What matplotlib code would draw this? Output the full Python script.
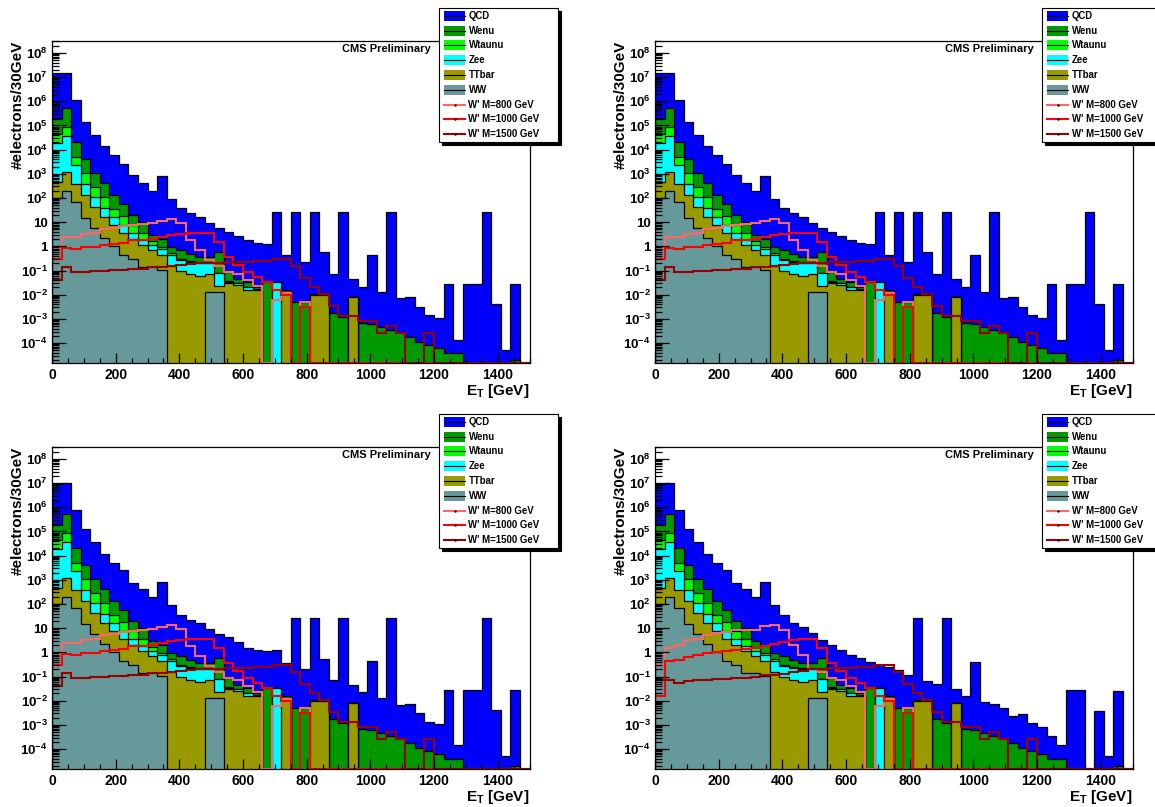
import numpy as np
import matplotlib
matplotlib.use("Agg")
import matplotlib.pyplot as plt
from matplotlib.patches import Rectangle
from matplotlib.ticker import FixedLocator, LogLocator, MultipleLocator, FuncFormatter, NullFormatter

plt.rcParams['font.family'] = 'Liberation Sans'
plt.rcParams['font.weight'] = 'bold'
plt.rcParams['mathtext.fontset'] = 'custom'
plt.rcParams['mathtext.rm'] = 'Liberation Sans:bold'
plt.rcParams['mathtext.bf'] = 'Liberation Sans:bold'
plt.rcParams['mathtext.it'] = 'Liberation Sans:bold'

# 30 GeV bins from 0 to 1500 GeV
edges = np.arange(0, 1501, 30)

# QCD = stack total, one array per panel row/column
qcd_top = [1.5e7, 1.5e7, 1.1e6, 1.4e5, 3.9e4, 1.45e4, 6.2e3, 2.65e3, 860, 400,
           190, 820, 88, 37, 23, 16.5, 9.2, 6.0, 3.8, 2.7,
           1.8, 1.4, 1.26, 26, 0.44, 26, 0.23, 26, 0.6, 0.069,
           26, 0.043, 0.021, 0.44, 0.013, 26, 0.0071, 0.0078, 0.0031, 0.00143,
           0.00111, 0.027, 1.4e-4, 0.027, 0.028, 26, 0.004, 5.1e-5, 0.027, 0]
qcd_bl = [9.5e6, 1.05e7, 7.6e5, 1.3e5, 3.5e4, 1.15e4, 4.8e3, 2.5e3, 760, 400,
          186, 830, 89, 35, 21, 17, 9, 6, 4.2, 2.8,
          1.5, 1.3, 1.1, 1.2, 0.35, 26, 0.2, 26, 0.52, 0.072,
          26, 0.045, 0.024, 0.45, 0.0126, 26, 0.0066, 0.007, 0.003, 0.00136,
          0.00105, 0.027, 1.5e-4, 0.027, 0.029, 26, 0.0041, 5.4e-5, 0.027, 0]
qcd_br = [9.5e6, 1.05e7, 7.6e5, 1.3e5, 3.5e4, 1.15e4, 4.8e3, 2.5e3, 760, 400,
          186, 830, 89, 35, 16, 11.6, 6.1, 3.2, 2.0, 1.2,
          0.77, 0.56, 0.41, 0.3, 0.25, 0.19, 0.115, 26, 0.067, 0.048,
          26, 0.03, 0.015, 0.41, 0.009, 0.0071, 0.0048, 0.0024, 0.0028, 0.0012,
          8.5e-4, 3.6e-4, 1.5e-4, 0.027, 0.028, 0, 0.0037, 5.4e-5, 0.026, 0]

# stacked levels below QCD (shared by all panels)
wenu_lvl = [1.8e5, 5.1e5, 2.1e4, 4.0e3, 1.05e3, 430, 133, 55, 20, 10.5,
            3.0, 2.1, 0.97, 0.71, 0.5, 0.37, 0.35, 0.6, 0.09, 0.045,
            0.035, 0.021, 0.035, 0.035, 0.015, 0.005, 0.005, 0.011, 0.011, 0.0018,
            0.0012, 0.0083, 6.5e-4, 6.0e-4, 4.8e-4, 3.5e-4, 3.0e-4, 1.8e-4, 1.15e-4, 8.3e-5,
            6.0e-5, 4.0e-5, 4.0e-5, 0, 0, 0, 0, 0, 2.0e-5, 0]
wtau_lvl = [4.5e4, 8.5e4, 5.1e3, 1.05e3, 275, 107, 34, 18, 7.6, 3.7,
            1.6, 0.95, 0.52, 0.3, 0.25, 0.22, 0.22, 0.08, 0.037, 0.031,
            0.021, 0.0165, 0, 0.035, 0.013, 0, 0, 0.01, 0.01, 0,
            0, 0.0083] + [0] * 18
zee_lvl = [1.8e4, 3.5e4, 2.4e3, 380, 107, 37, 17, 7.6, 3.7, 1.8,
           1.14, 0.76, 0.44, 0.27, 0.23, 0.2, 0.2, 0.076, 0.035, 0.03,
           0.02, 0.0155, 0, 0.035, 0.013, 0, 0, 0.01, 0.01, 0,
           0, 0.0083] + [0] * 18
tt_lvl = [480, 1240, 380, 133, 44, 17, 7.6, 3.7, 2.1, 1.14,
          0.71, 0.44, 0.15, 0.1, 0.07, 0.06, 0.07, 0.023, 0.03, 0.025,
          0.015, 0.0155, 0, 0, 0.013, 0, 0, 0.01, 0.01, 0,
          0, 0.0083] + [0] * 18
ww_lvl = [97, 200, 71, 14.5, 5.5, 2.3, 1.0, 0.44, 0.29, 0.145,
          0.145, 0.11, 0, 0, 0, 0, 0.013, 0.013] + [0] * 32

# W' signal histograms
wp800 = [0.83, 2.5, 2.5, 3.3, 3.7, 5.0, 5.7, 6.9, 7.6, 8.5,
         9.5, 11.0, 13.0, 9.3, 1.9, 0.7, 0.27, 0.155, 0.09, 0.072,
         0.04, 0.023, 0, 0.006, 0.012, 0, 0.005] + [0] * 23
wp1000 = [0.30, 0.83, 0.77, 0.9, 0.96, 1.1, 1.3, 1.4, 1.8, 1.9,
          2.1, 2.5, 2.9, 3.1, 3.5, 3.7, 3.7, 1.55, 0.35, 0.17,
          0.09, 0.056, 0.035, 0.016, 0.01, 0, 0.003] + [0] * 23
wp1500 = [0.04, 0.135, 0.09, 0.09, 0.1, 0.1, 0.105, 0.11, 0.12, 0.12,
          0.14, 0.14, 0.15, 0.17, 0.19, 0.2, 0.2, 0.21, 0.22, 0.22,
          0.23, 0.24, 0.25, 0.3, 0.31, 0.15, 0.05, 0.02, 0.011, 0.0033,
          0.0013, 0.0013, 8e-4, 8e-4, 2.6e-4, 5e-4, 2.6e-4, 0, 0, 2.7e-4] + [0] * 10
wp800_br = [0.3, 1.45, 2.0, 3.2, 3.7, 5.0, 6.1, 6.7, 8.3, 8.7,
            8.7, 12.6, 13.3, 8.7, 2.0, 0.77, 0.2, 0.15, 0.09, 0.072,
            0.04, 0.023, 0, 0.006, 0.012, 0, 0.005] + [0] * 23
wp1000_br = [0.015, 0.44, 0.5, 0.66, 0.8, 0.95, 1.0, 1.1, 1.2, 1.35,
             1.5, 1.9, 2.2, 2.6, 3.1, 3.5, 3.5, 1.55, 0.35, 0.17,
             0.09, 0.056, 0.035, 0.016, 0.01, 0, 0.003] + [0] * 23
wp1500_br = [0.075, 0.07, 0.055, 0.067, 0.075, 0.075, 0.08, 0.08, 0.09, 0.09,
             0.1, 0.116, 0.12, 0.13, 0.15, 0.17, 0.2, 0.21, 0.22, 0.22,
             0.23, 0.24, 0.25, 0.3, 0.31, 0.15, 0.05, 0.02, 0.011, 0.0033,
             0.0013, 0.0013, 8e-4, 8e-4, 2.6e-4, 5e-4, 2.6e-4, 0, 0, 2.7e-4] + [0] * 10

bkg_names = ['QCD', 'Wenu', 'Wtaunu', 'Zee', 'TTbar', 'WW']
bkg_colors = ['#0000ff', '#009900', '#00ff00', '#00ffff', '#999900', '#669999']
sig_names = ["W' M=800 GeV", "W' M=1000 GeV", "W' M=1500 GeV"]
sig_colors = ['#ff6666', '#ff0000', '#990000']

W, H = 1155, 807
YMIN, YMAX = 1.5e-5, 3.2e8

fig = plt.figure(figsize=(W / 100, H / 100), dpi=100)

# (left px, top px, qcd total, signals)
panels = [
    (52, 40.7, qcd_top, (wp800, wp1000, wp1500)),
    (655, 40.7, qcd_top, (wp800, wp1000, wp1500)),
    (52, 446.7, qcd_bl, (wp800, wp1000, wp1500)),
    (655, 446.7, qcd_br, (wp800_br, wp1000_br, wp1500_br)),
]
ax_w, ax_h = 477.5, 322.3


def ytick_fmt(v, pos):
    n = int(round(np.log10(v)))
    if n == 0:
        return '1'
    if n == 1:
        return '10'
    return r'$\mathbf{10^{%d}}$' % n


for left, top, qcd, sigs in panels:
    ax = fig.add_axes([left / W, 1 - (top + ax_h) / H, ax_w / W, ax_h / H])
    levels = [qcd, wenu_lvl, wtau_lvl, zee_lvl, tt_lvl, ww_lvl]
    for lvl, col in zip(levels, bkg_colors):
        v = np.array(lvl, dtype=float)
        v[v <= 0] = 1e-10
        ax.stairs(v, edges, baseline=1e-10, fill=True, facecolor=col,
                  edgecolor='black', linewidth=0.9)
    for s, col in zip(sigs, sig_colors):
        v = np.array(s, dtype=float)
        v[v <= 0] = 1.55e-5
        ax.stairs(v, edges, baseline=None, color=col, linewidth=1.5)

    ax.set_yscale('log')
    ax.set_xlim(0, 1500)
    ax.set_ylim(YMIN, YMAX)
    ax.set_axisbelow(False)
    ax.xaxis.set_major_locator(FixedLocator(np.arange(0, 1401, 200)))
    ax.xaxis.set_minor_locator(MultipleLocator(50))
    ax.yaxis.set_major_locator(LogLocator(base=10, numticks=20))
    ax.yaxis.set_minor_locator(LogLocator(base=10, subs=np.arange(2, 10), numticks=20))
    ax.yaxis.set_major_formatter(FuncFormatter(ytick_fmt))
    ax.yaxis.set_minor_formatter(NullFormatter())
    ax.tick_params(axis='x', which='major', direction='in', length=7, width=0.9,
                   labelsize=10, pad=3.5, top=False)
    ax.tick_params(axis='x', which='minor', direction='in', length=3.6, width=0.9, top=False)
    ax.tick_params(axis='y', which='major', direction='in', length=10, width=0.9,
                   labelsize=9.5, pad=3, right=False)
    ax.tick_params(axis='y', which='minor', direction='in', length=5, width=0.9, right=False)
    for sp in ax.spines.values():
        sp.set_linewidth(0.9)

    ax.text(-0.071, 1.0, '#electrons/30GeV', rotation=90, ha='center', va='top',
            fontsize=11, fontweight='bold', transform=ax.transAxes)
    ax.text(1.0, -0.058, r'$\mathbf{E_{T}}$ [GeV]', ha='right', va='top',
            fontsize=11, fontweight='bold', transform=ax.transAxes)
    ax.text(0.793, 0.973, 'CMS Preliminary', ha='right', va='center',
            fontsize=8, fontweight='bold', transform=ax.transAxes)

# legends drawn in pixel coordinates on an overlay
ov = fig.add_axes([0, 0, 1, 1], zorder=10)
ov.set_xlim(0, W)
ov.set_ylim(H, 0)
ov.axis('off')

entries = [(n, c, 'f') for n, c in zip(bkg_names, bkg_colors)] + \
          [(n, c, 'l') for n, c in zip(sig_names, sig_colors)]


def draw_legend(x0, y0):
    w, h = 119, 133.4
    ov.add_patch(Rectangle((x0 + 3, y0 + 3), w, h, facecolor='black', edgecolor='black', lw=0.8))
    ov.add_patch(Rectangle((x0, y0), w, h, facecolor='white', edgecolor='black', lw=0.8))
    row = h / len(entries)
    for i, (name, col, kind) in enumerate(entries):
        yc = y0 + (i + 0.5) * row
        if kind == 'f':
            ov.add_patch(Rectangle((x0 + 5, yc - 5), 21, 10, facecolor=col, edgecolor='none'))
            ov.plot([x0 + 5, x0 + 26], [yc, yc], color='black', lw=0.8)
        else:
            ov.plot([x0 + 5, x0 + 26], [yc, yc], color=col, lw=1.5)
            ov.plot([x0 + 15.5], [yc], marker='.', color='black', ms=1.5)
        ov.text(x0 + 29.5, yc, name, ha='left', va='center', fontsize=6.9, fontweight='bold')


for left, top, _, _ in panels:
    draw_legend(left + 387, top - 32.4)

fig.savefig('out.png', dpi=100)
